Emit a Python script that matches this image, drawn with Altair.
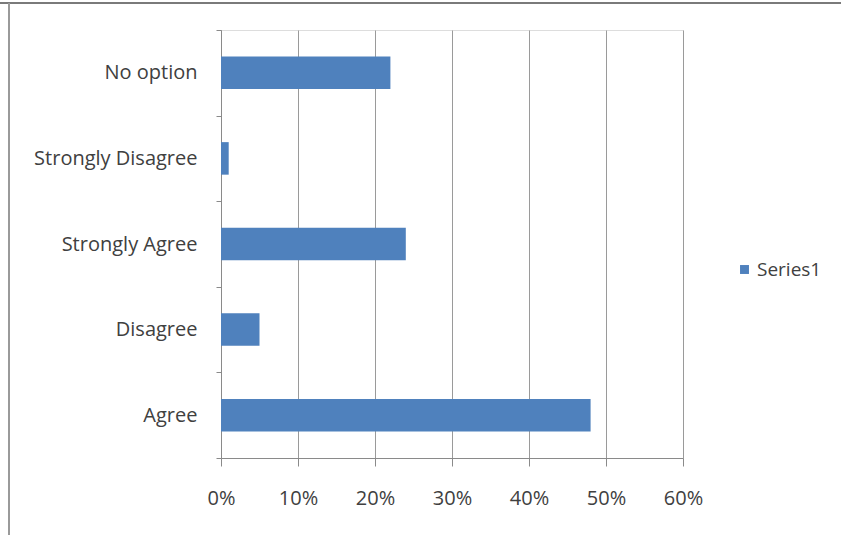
import altair as alt
import pandas as pd

categories = ["No option", "Strongly Disagree", "Strongly Agree", "Disagree", "Agree"]
values = [0.22, 0.01, 0.24, 0.05, 0.48]
series = ["Series1"] * len(categories)
x_ticks = [0, 0.1, 0.2, 0.3, 0.4, 0.5, 0.6]

df = pd.DataFrame({"category": categories, "value": values, "series": series})

FONT = "Open Sans"
TXT = "#404040"

bars = alt.Chart(df).mark_bar(color="#4F81BD", height={"band": 0.38}).encode(
    x=alt.X("value:Q",
            scale=alt.Scale(domain=[0, 0.6], nice=False),
            axis=alt.Axis(values=x_ticks, format=".0%", title=None,
                          grid=True, gridColor="#9a9a9a", gridWidth=1,
                          domainColor="#8a8a8a", tickColor="#8a8a8a", tickSize=8,
                          labelFlush=False, labelOverlap=False,
                          labelPadding=22, labelFont=FONT, labelFontSize=20,
                          labelColor=TXT)),
    y=alt.Y("category:N", sort=categories,
            scale=alt.Scale(paddingInner=0, paddingOuter=0),
            axis=alt.Axis(title=None, tickBand="extent", tickSize=5,
                          domainColor="#8a8a8a", tickColor="#8a8a8a",
                          labelPadding=19, labelFont=FONT, labelFontSize=20,
                          labelColor=TXT)),
    color=alt.Color("series:N",
                    scale=alt.Scale(domain=["Series1"], range=["#4F81BD"]),
                    legend=alt.Legend(title=None, orient="none", legendX=514, legendY=230,
                                      symbolType="square", symbolSize=80,
                                      labelFont=FONT, labelFontSize=19, labelColor=TXT,
                                      labelOffset=3)),
)

frame_top = alt.Chart(df).mark_rule(color="#7a7a7a", strokeWidth=2).encode(
    x=alt.value(-221), x2=alt.value(620), y=alt.value(-27)
)
frame_left = alt.Chart(df).mark_rule(color="#9a9a9a", strokeWidth=2).encode(
    x=alt.value(-212), y=alt.value(-27), y2=alt.value(505)
)

chart = alt.layer(bars, frame_top, frame_left).properties(
    width=462, height=428,
    autosize=alt.AutoSizeParams(type="none"),
    padding={"left": 221, "top": 30, "right": 158, "bottom": 77},
).configure_view(stroke=None).configure(background="white")

chart.save("out.html", embed_options={"renderer": "svg", "actions": False})
